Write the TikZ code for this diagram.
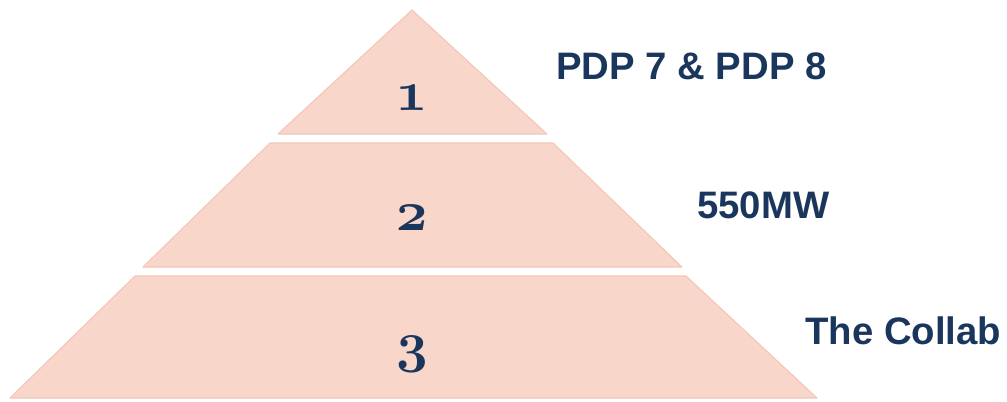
\documentclass[tikz,border=0pt]{standalone}
\usepackage{fontspec}
\newfontfamily\numfont{Latin Modern Roman}[Numbers=OldStyle]
\newfontfamily\labelfont{Liberation Sans}

\definecolor{tierfill}{HTML}{F9D6CA}
\definecolor{tierline}{HTML}{F2C6B6}
\definecolor{navy}{HTML}{1B365D}

\begin{document}
\begin{tikzpicture}[x=0.02cm, y=-0.02cm]
      \tikzset{
        tier/.style={fill=tierfill, draw=tierline, line width=0.6pt, line join=round},
        num/.style={text=navy, inner sep=0pt, font=\numfont\bfseries\fontsize{32}{36}\selectfont},
        lbl/.style={anchor=west, text=navy, inner sep=0pt, font=\labelfont\bfseries\fontsize{21.8}{25}\selectfont}
      }
      \useasboundingbox (0,0) rectangle (1007,402);

      % the three tiers, top to bottom
      \draw[tier] (412,10) -- (547,134) -- (278,134) -- cycle;
      \draw[tier] (270,143) -- (553,143) -- (682,267) -- (143,267) -- cycle;
      \draw[tier] (135,276) -- (686,276) -- (817,398) -- (10,398) -- cycle;

      \node[num] (one) at (412,98) {1};
      \node[num] (two) at (412,218) {2};
      \node[num] (three) at (412,354) {3};

      \node[lbl] (plan) at (556,66) {PDP 7 \& PDP 8};
      \node[lbl] (power) at (697,205) {550MW};
      \node[lbl] (collab) at (805,331) {The Collab};

    \end{tikzpicture}
\end{document}
